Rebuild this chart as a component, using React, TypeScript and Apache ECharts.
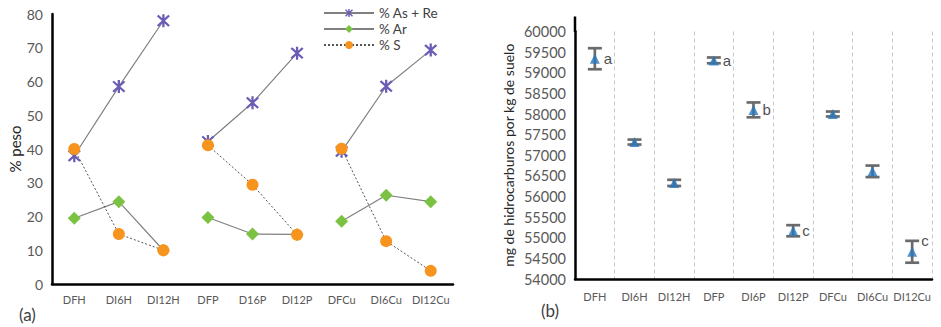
import React, { useEffect, useRef } from "react";
import * as echarts from "echarts";

// (a) composition in % peso per treatment
const CATS_A = ["DFH", "DI6H", "DI12H", "DFP", "D16P", "DI12P", "DFCu", "DI6Cu", "DI12Cu"];
const AS_RE = [38, 58.5, 78, 42.2, 53.7, 68.4, 39.3, 58.6, 69.3];
const AR = [19.5, 24.4, 10, 19.7, 14.8, 14.7, 18.6, 26.3, 24.4];
const S = [40, 14.8, 10, 41.1, 29.4, 14.6, 40.1, 12.7, 3.9];
// each treatment family is drawn as its own 3-point line
const GROUPS = [
  [0, 1, 2],
  [3, 4, 5],
  [6, 7, 8],
];

// (b) hydrocarbons, mg per kg of soil: mean, error and significance letter
const CATS_B = ["DFH", "DI6H", "DI12H", "DFP", "DI6P", "DI12P", "DFCu", "DI6Cu", "DI12Cu"];
const HC_MEAN = [59340, 57320, 56330, 59300, 58100, 55170, 58000, 56610, 54660];
const HC_ERR = [255, 60, 75, 70, 180, 135, 60, 140, 265];
const HC_LETTERS = ["a", "", "", "a", "b", "c", "", "", "c"];

const Y_TICKS_A = { min: 0, max: 80, interval: 10 };
const Y_TICKS_B = { min: 54000, max: 60000, interval: 500 };

const FONT = "Lato, 'Open Sans', sans-serif";
const TICK_COLOR = "#595959";

// asterisk marker: X plus a vertical bar
const STAR =
  "path://M8.4 0 L11.6 0 L11.6 20 L8.4 20 Z " +
  "M3.13 0.87 L19.13 16.87 L16.87 19.13 L0.87 3.13 Z " +
  "M16.87 0.87 L19.13 3.13 L3.13 19.13 L0.87 16.87 Z";

function buildOption() {
  const lineSeries: any[] = [];
  const metrics = [
    {
      name: "% As + Re",
      values: AS_RE,
      symbol: STAR,
      symbolSize: 13,
      color: "#6a5cb4",
      line: { color: "#808080", width: 1.2, type: "solid" },
    },
    {
      name: "% Ar",
      values: AR,
      symbol: "diamond",
      symbolSize: 13,
      color: "#7cc242",
      line: { color: "#808080", width: 1.2, type: "solid" },
    },
    {
      name: "% S",
      values: S,
      symbol: "circle",
      symbolSize: 12,
      color: "#f7941d",
      line: { color: "#555555", width: 1, type: [2, 2] },
    },
  ];
  metrics.forEach((m) => {
    GROUPS.forEach((g) => {
      lineSeries.push({
        type: "line",
        name: m.name,
        xAxisIndex: 0,
        yAxisIndex: 0,
        data: g.map((i) => [i, m.values[i]]),
        symbol: m.symbol,
        symbolSize: m.symbolSize,
        showAllSymbol: true,
        itemStyle: { color: m.color, borderWidth: 0 },
        lineStyle: m.line,
        emphasis: { disabled: true },
      });
    });
  });

  const errData = HC_MEAN.map((v, i) => [i, v - HC_ERR[i], v + HC_ERR[i]]);
  const last = HC_MEAN.length - 1;

  const catLabel = {
    color: TICK_COLOR,
    fontSize: 11,
    fontFamily: FONT,
    interval: 0,
    hideOverlap: false,
  };

  return {
    animation: false,
    backgroundColor: "#ffffff",
    textStyle: { fontFamily: FONT },
    legend: {
      left: 323,
      top: 6,
      padding: 0,
      orient: "vertical",
      itemWidth: 50,
      itemHeight: 10,
      itemGap: 2,
      data: metrics.map((m) => m.name),
      textStyle: { fontSize: 13.5, color: "#404040", fontFamily: FONT, lineHeight: 13 },
      selectedMode: false,
    },
    grid: [
      { left: 52, top: 14, width: 401, height: 270 },
      { left: 575, top: 31.5, width: 357, height: 247.5 },
    ],
    xAxis: [
      {
        type: "category",
        gridIndex: 0,
        data: CATS_A,
        boundaryGap: true,
        axisLine: { lineStyle: { color: "#000", width: 2.5 } },
        axisTick: { show: false },
        axisLabel: { ...catLabel, margin: 10 },
        splitLine: { show: false },
      },
      {
        type: "category",
        gridIndex: 1,
        data: CATS_B,
        boundaryGap: true,
        axisLine: { lineStyle: { color: "#000", width: 2.5 } },
        axisTick: { show: false },
        axisLabel: { ...catLabel, margin: 12 },
        splitLine: {
          show: true,
          interval: 0,
          lineStyle: { color: "#c8c8c8", width: 1, type: [4, 3] },
        },
      },
    ],
    yAxis: [
      {
        type: "value",
        gridIndex: 0,
        ...Y_TICKS_A,
        name: "% peso",
        nameLocation: "middle",
        nameRotate: 90,
        nameGap: 30,
        nameTextStyle: { fontSize: 15, color: "#262626", fontFamily: FONT },
        axisLine: { show: true, lineStyle: { color: "#000", width: 2.5 } },
        axisTick: { show: false },
        axisLabel: { color: TICK_COLOR, fontSize: 14, margin: 9, fontFamily: FONT },
        splitLine: { show: false },
      },
      {
        type: "value",
        gridIndex: 1,
        ...Y_TICKS_B,
        name: "mg de hidrocarburos por kg de suelo",
        nameLocation: "middle",
        nameRotate: 90,
        nameGap: 60,
        nameTextStyle: { fontSize: 14, color: "#262626", fontFamily: FONT },
        axisLine: { show: true, lineStyle: { color: "#000", width: 2.5 } },
        axisTick: { show: false },
        axisLabel: {
          color: TICK_COLOR,
          fontSize: 14.5,
          margin: 9,
          fontFamily: FONT,
          formatter: (v: number) => String(v),
        },
        splitLine: { show: false },
      },
    ],
    graphic: [
      // the value axis of (b) runs a little above its top tick
      {
        type: "line",
        shape: { x1: 575, y1: 16.5, x2: 575, y2: 32 },
        style: { stroke: "#000", lineWidth: 2.5 },
      },
      {
        type: "text",
        left: 19,
        top: 306,
        style: { text: "(a)", fontSize: 17, fill: "#404040", fontFamily: FONT },
      },
      {
        type: "text",
        left: 541,
        top: 302,
        style: { text: "(b)", fontSize: 17, fill: "#404040", fontFamily: FONT },
      },
    ],
    series: [
      ...lineSeries,
      {
        type: "custom",
        name: "error",
        xAxisIndex: 1,
        yAxisIndex: 1,
        data: errData,
        encode: { x: 0, y: [1, 2] },
        z: 2,
        renderItem: (params: any, api: any) => {
          const lo = api.coord([api.value(0), api.value(1)]);
          const hi = api.coord([api.value(0), api.value(2)]);
          const half = 7;
          const style = { stroke: "#6b6b6b", lineWidth: 2.7 };
          return {
            type: "group",
            children: [
              { type: "line", shape: { x1: lo[0], y1: lo[1], x2: hi[0], y2: hi[1] }, style },
              { type: "line", shape: { x1: lo[0] - half, y1: lo[1], x2: lo[0] + half, y2: lo[1] }, style },
              { type: "line", shape: { x1: hi[0] - half, y1: hi[1], x2: hi[0] + half, y2: hi[1] }, style },
            ],
          };
        },
      },
      {
        type: "scatter",
        name: "hc",
        xAxisIndex: 1,
        yAxisIndex: 1,
        z: 3,
        symbol: "triangle",
        symbolSize: 10,
        itemStyle: { color: "#2878bd" },
        data: HC_MEAN.map((v, i) => ({
          value: [i, v],
          label: i === last ? { offset: [0, -11] } : undefined,
        })),
        label: {
          show: true,
          position: "right",
          distance: 4,
          formatter: (p: any) => HC_LETTERS[p.dataIndex],
          fontSize: 15,
          color: "#1a1a1a",
          fontFamily: "'Liberation Sans', Arial, sans-serif",
        },
        emphasis: { disabled: true },
      },
    ],
  };
}

export default function App() {
  const ref = useRef<HTMLDivElement>(null);
  useEffect(() => {
    if (!ref.current) return;
    const chart = echarts.init(ref.current, undefined, { renderer: "svg" });
    chart.setOption(buildOption() as any);
    return () => chart.dispose();
  }, []);
  return (
    <div
      ref={ref}
      style={{ position: "fixed", left: 0, top: 0, width: 941, height: 327, background: "#fff" }}
    />
  );
}
